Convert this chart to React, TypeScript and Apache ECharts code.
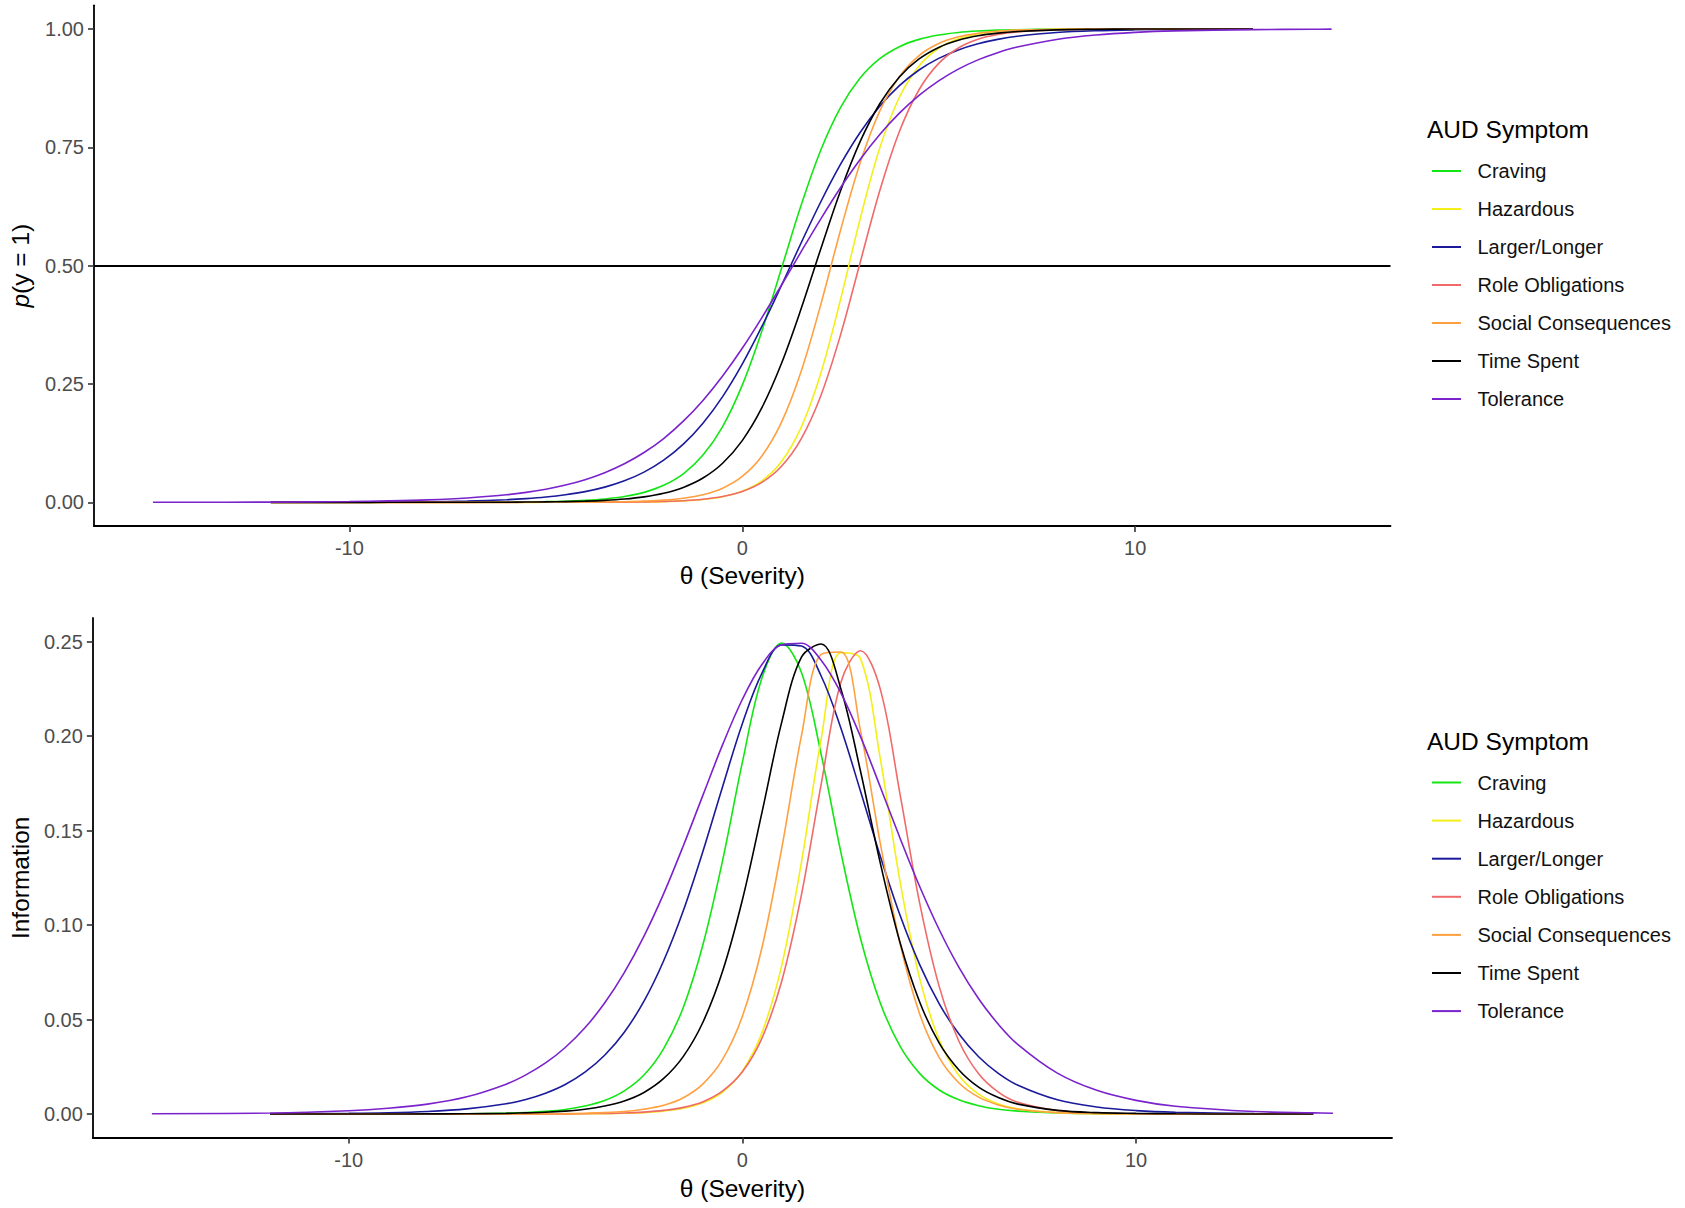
import React, { useEffect, useRef } from "react";
import * as echarts from "echarts";

// theta grid (x values)
const THETA = [-15, -12, -10, -9, -8, -7, -6, -5.5, -5, -4.5, -4, -3.5, -3, -2.5, -2, -1.5, -1, -0.5, 0, 0.5, 1, 1.5, 2, 2.5, 3, 3.5, 4, 4.5, 5, 5.5, 6, 6.5, 7, 8, 9, 10, 11, 13, 14.5, 15];

const SYMPTOMS = ["Craving", "Hazardous", "Larger/Longer", "Role Obligations", "Social Consequences", "Time Spent", "Tolerance"];
const COLORS = ["#14e614", "#f4ef1a", "#1a1a9a", "#f06a6a", "#ffa040", "#000000", "#7a22cc"];

// Item characteristic curves p(y = 1)
const ICC_CRAVING = [null, 0, 0, 0.00002, 0.00005, 0.00016, 0.00048, 0.0008, 0.0014, 0.0024, 0.0042, 0.0072, 0.0124, 0.021, 0.0359, 0.0601, 0.0998, 0.1601, 0.2475, 0.362, 0.4945, 0.6279, 0.7442, 0.8338, 0.8964, 0.9372, 0.9626, 0.978, 0.9871, 0.9925, 0.9956, 0.9975, 0.9985, 0.9995, 0.9998, 0.9999, 1, 1, null, null];
const ICC_HAZARDOUS = [null, 0, 0, 0, 0, 0, 0.00001, 0.00001, 0.00002, 0.00005, 0.0001, 0.0002, 0.0004, 0.0008, 0.0015, 0.003, 0.0059, 0.0118, 0.0232, 0.0452, 0.0863, 0.1584, 0.2728, 0.428, 0.5987, 0.7484, 0.8557, 0.922, 0.9593, 0.9792, 0.9894, 0.9947, 0.9973, 0.9993, 0.9998, 1, 1, 1, null, null];
const ICC_LARGER = [null, 0.0001, 0.0003, 0.0006, 0.0013, 0.0027, 0.0055, 0.0078, 0.0111, 0.0159, 0.0226, 0.0321, 0.0454, 0.0638, 0.089, 0.1228, 0.1671, 0.2234, 0.292, 0.3715, 0.4586, 0.5483, 0.635, 0.7138, 0.7814, 0.8367, 0.8802, 0.9133, 0.9378, 0.9558, 0.9688, 0.978, 0.9845, 0.9924, 0.9963, 0.9982, 0.9991, 0.9998, null, null];
const ICC_ROLE = [null, 0, 0, 0, 0, 0, 0.00001, 0.00002, 0.00004, 0.00008, 0.00015, 0.0003, 0.0005, 0.001, 0.0019, 0.0035, 0.0066, 0.0123, 0.0229, 0.0421, 0.0762, 0.1341, 0.2253, 0.3532, 0.5063, 0.6581, 0.7833, 0.8716, 0.9273, 0.9599, 0.9782, 0.9883, 0.9937, 0.9982, 0.9995, 0.9999, 1, 1, null, null];
const ICC_SOCIAL = [null, 0, 0, 0, 0, 0.00001, 0.00003, 0.00006, 0.0001, 0.0002, 0.0004, 0.0007, 0.0013, 0.0025, 0.0046, 0.0087, 0.0161, 0.0299, 0.0547, 0.098, 0.1694, 0.2769, 0.4182, 0.5744, 0.7171, 0.8264, 0.8993, 0.9438, 0.9692, 0.9834, 0.9911, 0.9952, 0.9975, 0.9993, 0.9998, 0.9999, 1, 1, null, null];
const ICC_TIME = [null, 0, 0.00001, 0.00002, 0.00004, 0.0001, 0.0003, 0.0006, 0.0009, 0.0015, 0.0025, 0.0042, 0.007, 0.0116, 0.0191, 0.0315, 0.0513, 0.0826, 0.1304, 0.1999, 0.2938, 0.4093, 0.5357, 0.6577, 0.7619, 0.842, 0.8987, 0.9366, 0.961, 0.9762, 0.9856, 0.9913, 0.9947, 0.9981, 0.9993, 0.9998, 0.9999, 1, null, null];
const ICC_TOLERANCE = [0.0001, 0.0005, 0.0017, 0.003, 0.0052, 0.0092, 0.016, 0.0211, 0.0278, 0.0366, 0.0479, 0.0626, 0.0814, 0.1052, 0.1348, 0.1714, 0.2152, 0.2668, 0.3254, 0.3903, 0.4591, 0.5297, 0.5989, 0.6646, 0.7243, 0.7771, 0.8222, 0.8598, 0.8905, 0.9152, 0.9347, 0.95, 0.9618, 0.9779, 0.9873, 0.9928, 0.9959, 0.9987, 0.9994, 0.9996];

// Item information curves
const INFO_CRAVING = [null, 0, 0, 0.00002, 0.00005, 0.00016, 0.00048, 0.0008, 0.0014, 0.0024, 0.0042, 0.0071, 0.0122, 0.0206, 0.0346, 0.0565, 0.0898, 0.1345, 0.1862, 0.231, 0.2492, 0.2336, 0.1904, 0.1386, 0.0929, 0.0589, 0.036, 0.0215, 0.0127, 0.0075, 0.0044, 0.0025, 0.0015, 0.0005, 0.0002, 0.0001, 0, 0, 0, null];
const INFO_HAZARDOUS = [null, 0, 0, 0, 0, 0, 0.00001, 0.00001, 0.00002, 0.00005, 0.0001, 0.0002, 0.0004, 0.0007, 0.0015, 0.003, 0.0059, 0.0116, 0.0227, 0.0432, 0.0788, 0.1333, 0.1984, 0.2442, 0.241, 0.1883, 0.1235, 0.0719, 0.0391, 0.0204, 0.0105, 0.0053, 0.0027, 0.0007, 0.0002, 0, 0, 0, 0, null];
const INFO_LARGER = [null, 0.0001, 0.0003, 0.0006, 0.0013, 0.0027, 0.0054, 0.0077, 0.011, 0.0156, 0.0221, 0.0311, 0.0433, 0.0597, 0.0811, 0.1077, 0.1392, 0.1735, 0.2067, 0.2335, 0.2483, 0.2477, 0.2318, 0.2043, 0.1708, 0.1366, 0.1054, 0.0792, 0.0583, 0.0423, 0.0303, 0.0215, 0.0152, 0.0075, 0.0037, 0.0018, 0.0009, 0.0002, 0.0001, null];
const INFO_ROLE = [null, 0, 0, 0, 0, 0, 0.00001, 0.00002, 0.00004, 0.00008, 0.00015, 0.0003, 0.0005, 0.001, 0.0019, 0.0035, 0.0065, 0.0122, 0.0223, 0.0403, 0.0704, 0.1161, 0.1745, 0.2284, 0.2452, 0.225, 0.1697, 0.1119, 0.0674, 0.0385, 0.0213, 0.0116, 0.0062, 0.0018, 0.0005, 0.0001, 0, 0, 0, null];
const INFO_SOCIAL = [null, 0, 0, 0, 0, 0.00001, 0.00003, 0.00006, 0.0001, 0.0002, 0.0004, 0.0007, 0.0013, 0.0025, 0.0046, 0.0086, 0.0159, 0.029, 0.0517, 0.0884, 0.1407, 0.2002, 0.2433, 0.2445, 0.2029, 0.1435, 0.0906, 0.0531, 0.0298, 0.0164, 0.0089, 0.0048, 0.0025, 0.0007, 0.0002, 0.0001, 0, 0, 0, null];
const INFO_TIME = [null, 0, 0.00001, 0.00002, 0.00004, 0.0001, 0.0003, 0.0006, 0.0009, 0.0015, 0.0025, 0.0042, 0.0069, 0.0114, 0.0188, 0.0305, 0.0487, 0.0758, 0.1134, 0.1599, 0.2075, 0.2418, 0.2487, 0.2251, 0.1814, 0.133, 0.091, 0.0594, 0.0375, 0.0233, 0.0142, 0.0087, 0.0052, 0.0019, 0.0007, 0.0003, 0.0001, 0, 0, null];
const INFO_TOLERANCE = [0.0001, 0.0005, 0.0017, 0.003, 0.0052, 0.0091, 0.0158, 0.0207, 0.027, 0.0352, 0.0456, 0.0587, 0.0748, 0.0941, 0.1166, 0.142, 0.1689, 0.1956, 0.2195, 0.238, 0.2483, 0.2491, 0.2402, 0.2229, 0.1997, 0.1732, 0.1462, 0.1205, 0.0975, 0.0776, 0.061, 0.0475, 0.0367, 0.0216, 0.0125, 0.0072, 0.0041, 0.0013, 0.0006, 0.0004];

const ICC = [ICC_CRAVING, ICC_HAZARDOUS, ICC_LARGER, ICC_ROLE, ICC_SOCIAL, ICC_TIME, ICC_TOLERANCE];
const INFO = [INFO_CRAVING, INFO_HAZARDOUS, INFO_LARGER, INFO_ROLE, INFO_SOCIAL, INFO_TIME, INFO_TOLERANCE];

const X_TICKS = [-10, 0, 10];
const P_TICKS = [0, 0.25, 0.5, 0.75, 1];
const INFO_TICKS = [0, 0.05, 0.1, 0.15, 0.2, 0.25];
const HLINE = 0.5;

const LEGEND_TITLE = "AUD Symptom";
const X_TITLE = "θ (Severity)";

const FONT = '"Liberation Sans", Arial, Helvetica, sans-serif';

function pairs(vals: (number | null)[]) {
  return THETA.map((t, i) => [t, vals[i]]).filter((d) => d[1] !== null);
}

function axisCommon() {
  return {
    type: "value" as const,
    splitLine: { show: false },
    axisLine: { show: true, onZero: false, lineStyle: { color: "#000", width: 1.8 } },
  };
}

function legendGraphic(titleY: number, firstY: number, step: number) {
  const els: any[] = [
    {
      type: "text",
      x: 1427,
      y: titleY,
      style: { text: LEGEND_TITLE, font: `24.5px ${FONT}`, fill: "#000", verticalAlign: "middle", align: "left" },
    },
  ];
  SYMPTOMS.forEach((s, i) => {
    const y = firstY + i * step;
    els.push({
      type: "line",
      shape: { x1: 1432, y1: y, x2: 1461, y2: y },
      style: { stroke: COLORS[i], lineWidth: 2 },
    });
    els.push({
      type: "text",
      x: 1477.5,
      y: y,
      style: { text: s, font: `20px ${FONT}`, fill: "#111", verticalAlign: "middle", align: "left" },
    });
  });
  return els;
}

export default function App() {
  const ref = useRef<HTMLDivElement>(null);

  useEffect(() => {
    document.body.style.margin = "0";
    if (!ref.current) return;
    const chart = echarts.init(ref.current, undefined, { renderer: "svg" });

    const tickLabel = { fontSize: 20, color: "#4D4D4D", fontFamily: FONT };
    const nameStyle = { fontSize: 24.5, color: "#000", fontFamily: FONT };

    const series: any[] = [];
    SYMPTOMS.forEach((s, i) => {
      const top: any = {
        type: "line",
        name: s,
        xAxisIndex: 0,
        yAxisIndex: 0,
        data: pairs(ICC[i]),
        symbol: "none",
        showSymbol: false,
        smooth: 0.35,
        lineStyle: { color: COLORS[i], width: 1.6 },
        itemStyle: { color: COLORS[i] },
        z: 2 + i,
      };
      if (i === 0) {
        top.markLine = {
          silent: true,
          symbol: "none",
          label: { show: false },
          lineStyle: { color: "#000", width: 1.8, type: "solid" },
          data: [{ yAxis: HLINE }],
          z: 1,
        };
      }
      series.push(top);
    });
    SYMPTOMS.forEach((s, i) => {
      series.push({
        type: "line",
        name: s,
        xAxisIndex: 1,
        yAxisIndex: 1,
        data: pairs(INFO[i]),
        symbol: "none",
        showSymbol: false,
        smooth: 0.35,
        lineStyle: { color: COLORS[i], width: 1.6 },
        itemStyle: { color: COLORS[i] },
        z: 2 + i,
      });
    });

    chart.setOption({
      animation: false,
      backgroundColor: "#ffffff",
      textStyle: { fontFamily: FONT },
      grid: [
        { left: 92.5, top: 5.3, width: 1298, height: 520.7 },
        { left: 84, top: 618, width: 1308, height: 519.6 },
      ],
      xAxis: [
        {
          ...axisCommon(),
          gridIndex: 0,
          min: -16.5,
          max: 16.5,
          axisTick: { show: true, length: 6, customValues: X_TICKS, lineStyle: { color: "#333", width: 1.6 } },
          axisLabel: { ...tickLabel, margin: 12, customValues: X_TICKS, formatter: (v: number) => String(v) },
          name: X_TITLE,
          nameLocation: "middle",
          nameGap: 37,
          nameTextStyle: nameStyle,
        },
        {
          ...axisCommon(),
          gridIndex: 1,
          min: -16.5,
          max: 16.5,
          axisTick: { show: true, length: 6, customValues: X_TICKS, lineStyle: { color: "#333", width: 1.6 } },
          axisLabel: { ...tickLabel, margin: 12, customValues: X_TICKS, formatter: (v: number) => String(v) },
          name: X_TITLE,
          nameLocation: "middle",
          nameGap: 38,
          nameTextStyle: nameStyle,
        },
      ],
      yAxis: [
        {
          ...axisCommon(),
          gridIndex: 0,
          min: -0.05,
          max: 1.05,
          axisTick: { show: true, length: 6, customValues: P_TICKS, lineStyle: { color: "#333", width: 1.6 } },
          axisLabel: { ...tickLabel, margin: 10, customValues: P_TICKS, formatter: (v: number) => v.toFixed(2) },
          name: "{i|p}(y = 1)",
          nameLocation: "middle",
          nameGap: 61,
          nameTextStyle: { ...nameStyle, rich: { i: { fontStyle: "italic", fontSize: 24.5, fontFamily: FONT, color: "#000" } } },
        },
        {
          ...axisCommon(),
          gridIndex: 1,
          min: -0.0125,
          max: 0.2625,
          axisTick: { show: true, length: 6, customValues: INFO_TICKS, lineStyle: { color: "#333", width: 1.6 } },
          axisLabel: { ...tickLabel, margin: 10, customValues: INFO_TICKS, formatter: (v: number) => v.toFixed(2) },
          name: "Information",
          nameLocation: "middle",
          nameGap: 56,
          nameTextStyle: nameStyle,
        },
      ],
      graphic: [...legendGraphic(129, 171, 38.0), ...legendGraphic(741.5, 782.5, 38.1)],
      series,
    });

    return () => {
      chart.dispose();
    };
  }, []);

  return <div ref={ref} style={{ width: "1685px", height: "1208px", background: "#fff" }} />;
}
